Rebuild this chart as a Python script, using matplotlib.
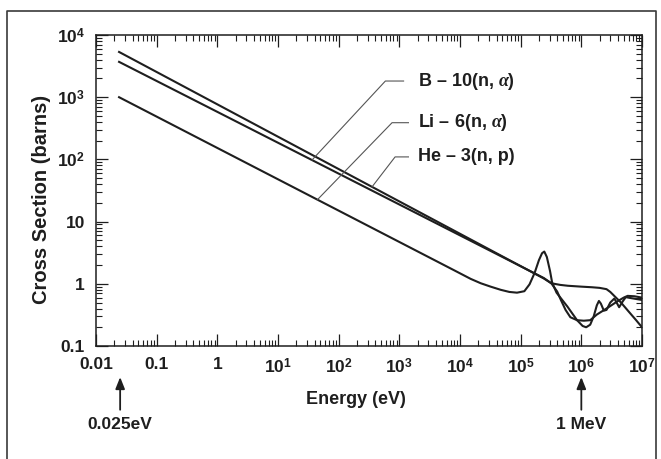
"""
Neutron capture cross sections of He-3, B-10 and Li-6 versus energy (log-log).
Values read off the reference picture.
"""

import matplotlib
matplotlib.use("Agg")
import matplotlib.pyplot as plt
from matplotlib.lines import Line2D
import numpy as np

# --- data (energy in eV, cross section in barns) ---
he3_energy = [0.024, 2.4e5, 3.2e5, 4.5e5, 6.0e5, 1.0e6, 1.5e6, 2.0e6, 2.6e6,
              3.0e6, 3.6e6, 4.5e6, 6.0e6, 8.0e6, 1.0e7]
he3_sigma = [5340, 1.22, 1.02, 0.96, 0.93, 0.90, 0.88, 0.86, 0.82,
             0.74, 0.62, 0.50, 0.36, 0.26, 0.20]

b10_energy = [0.024, 2.4e5, 3.2e5, 4.0e5, 4.6e5, 5.5e5, 6.6e5, 8.5e5, 1.1e6,
              1.4e6, 1.8e6, 2.7e6, 3.9e6, 5.0e6, 5.8e6, 7.5e6, 1.0e7]
b10_sigma = [3700, 1.24, 1.02, 0.75, 0.55, 0.38, 0.29, 0.26, 0.255,
             0.26, 0.32, 0.41, 0.52, 0.60, 0.64, 0.63, 0.60]

li6_energy = [0.024, 8.0e3, 1.5e4, 2.2e4, 3.2e4, 4.7e4, 6.5e4, 8.7e4, 1.15e5,
              1.4e5, 1.7e5, 2.0e5, 2.25e5, 2.45e5, 2.7e5, 3.05e5, 3.3e5,
              3.9e5, 5.9e5, 8.5e5, 1.05e6, 1.2e6, 1.4e6, 1.6e6, 1.8e6,
              1.95e6, 2.1e6, 2.35e6, 2.6e6, 3.0e6, 3.5e6, 3.9e6, 4.2e6,
              4.8e6, 5.4e6, 6.5e6, 8.0e6, 1.0e7]
li6_sigma = [1000, 1.65, 1.2, 1.02, 0.9, 0.8, 0.74, 0.72, 0.76,
             0.98, 1.5, 2.4, 3.1, 3.3, 2.7, 1.6, 1.05,
             0.72, 0.43, 0.26, 0.21, 0.20, 0.22, 0.30, 0.45,
             0.53, 0.48, 0.37, 0.38, 0.50, 0.58, 0.48, 0.42,
             0.52, 0.61, 0.59, 0.57, 0.55]

x_ticks = [1e-2, 1e-1, 1, 1e1, 1e2, 1e3, 1e4, 1e5, 1e6, 1e7]
x_ticklabels = ["0.01", "0.1", "1", r"$10^{1}$", r"$10^{2}$", r"$10^{3}$",
                r"$10^{4}$", r"$10^{5}$", r"$10^{6}$", r"$10^{7}$"]
y_ticks = [0.1, 1, 10, 1e2, 1e3, 1e4]
y_ticklabels = ["0.1", "1", "10", r"$10^{2}$", r"$10^{3}$", r"$10^{4}$"]

INK = "#1e1e1e"

plt.rcParams["font.family"] = ["Liberation Sans", "DejaVu Sans"]
plt.rcParams["font.weight"] = "bold"
plt.rcParams["mathtext.fontset"] = "custom"
plt.rcParams["mathtext.rm"] = "Liberation Sans:bold"
plt.rcParams["mathtext.bf"] = "Liberation Sans:bold"
plt.rcParams["mathtext.it"] = "Liberation Serif:italic"


def main() -> None:
    fig = plt.figure(figsize=(6.61, 4.59), dpi=100)
    ax = fig.add_axes([96 / 661, 1 - 346 / 459, 546 / 661, 311 / 459])

    for e, s in [(he3_energy, he3_sigma), (b10_energy, b10_sigma),
                 (li6_energy, li6_sigma)]:
        ax.plot(e, s, color=INK, lw=1.5, solid_joinstyle="round")

    ax.set_xscale("log")
    ax.set_yscale("log")
    ax.set_xlim(1e-2, 1e7)
    ax.set_ylim(0.1, 1e4)
    ax.set_xticks(x_ticks)
    ax.set_xticklabels(x_ticklabels)
    ax.set_yticks(y_ticks)
    ax.set_yticklabels(y_ticklabels)
    ax.xaxis.set_minor_locator(matplotlib.ticker.LogLocator(base=10, subs=np.arange(2, 10), numticks=20))
    ax.yaxis.set_minor_locator(matplotlib.ticker.LogLocator(base=10, subs=np.arange(2, 10), numticks=20))
    ax.xaxis.set_minor_formatter(matplotlib.ticker.NullFormatter())
    ax.yaxis.set_minor_formatter(matplotlib.ticker.NullFormatter())
    ax.tick_params(which="both", direction="in", top=True, right=True,
                   color=INK, labelcolor=INK, labelsize=12.5)
    ax.tick_params(which="major", length=8.5, width=0.9)
    ax.tick_params(which="minor", length=4.5, width=0.8)
    ax.tick_params(axis="x", which="major", pad=8)
    ax.tick_params(axis="y", which="major", pad=8)
    for sp in ax.spines.values():
        sp.set_linewidth(1.1)
        sp.set_color(INK)

    # leader lines from labels to curves
    def on_curve(energy, sigma, e):
        return 10 ** np.interp(np.log10(e), np.log10(energy), np.log10(sigma))

    labels = [
        (r"B – 10(n, $\alpha$)", b10_energy, b10_sigma, 10 ** 1.56, 10 ** 2.77, 10 ** 3.07, 10 ** 3.26),
        (r"Li – 6(n, $\alpha$)", li6_energy, li6_sigma, 10 ** 1.65, 10 ** 2.88, 10 ** 3.15, 10 ** 2.59),
        ("He – 3(n, p)", he3_energy, he3_sigma, 10 ** 2.55, 10 ** 2.93, 10 ** 3.15, 10 ** 2.04),
    ]
    for text, en, sg, e_end, e_elbow, e_start, y_lab in labels:
        ax.plot([e_start, e_elbow, e_end], [y_lab, y_lab, on_curve(en, sg, e_end)],
                color="#555555", lw=0.8)
        ax.text(10 ** 3.31, y_lab, text, fontsize=13, color=INK,
                ha="left", va="center")

    # arrows under the axis
    for e, txt in [(0.025, "0.025eV"), (1e6, "1 MeV")]:
        ax.annotate("", xy=(e, -0.10), xytext=(e, -0.205),
                    xycoords=("data", "axes fraction"),
                    textcoords=("data", "axes fraction"),
                    arrowprops=dict(arrowstyle="-|>,head_length=0.7,head_width=0.28",
                                    color=INK, lw=1.3, shrinkA=0, shrinkB=0),
                    annotation_clip=False)
        ax.text(e, -0.254, txt, transform=ax.get_xaxis_transform(),
                ha="center", va="center", fontsize=12.5, color=INK)

    fig.text(356 / 661, 1 - 400 / 459, "Energy (eV)", ha="center", va="center",
             fontsize=13, color=INK)
    fig.text(42 / 661, 1 - 199 / 459, "Cross Section (barns)", ha="center",
             va="center", rotation=90, fontsize=14.5, color=INK)

    # outer frame (open at the bottom)
    fx0, fx1, fy1 = 7 / 661, 656 / 661, 1 - 11 / 459
    fig.add_artist(Line2D([fx0, fx0, fx1, fx1], [0, fy1, fy1, 0],
                          transform=fig.transFigure, color="#3a3a3a", lw=1.2))

    fig.savefig("out.png", dpi=100)
    plt.close(fig)


if __name__ == "__main__":
    main()
